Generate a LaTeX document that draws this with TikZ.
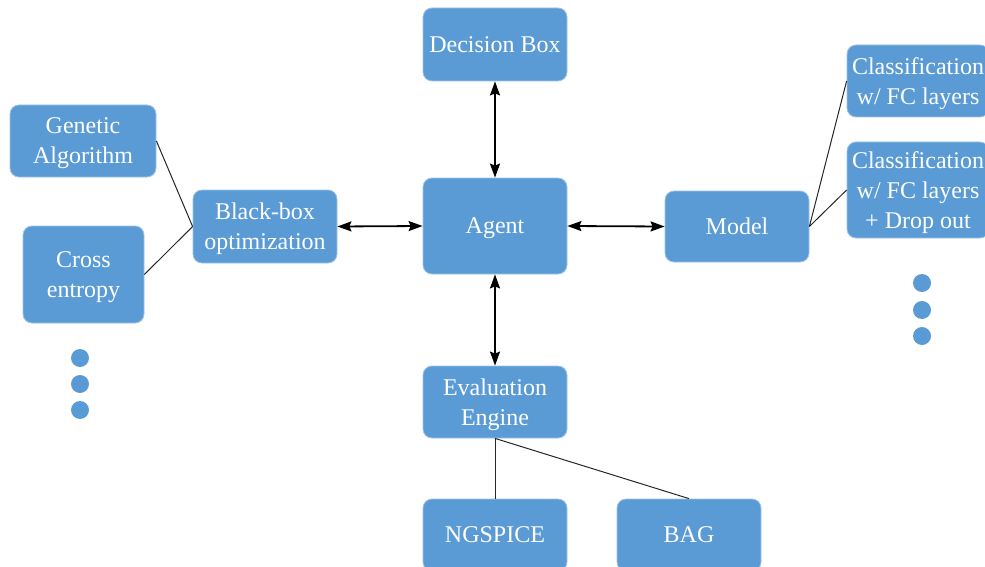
\documentclass[tikz,border=0pt]{standalone}
\usepackage{fontspec}
\setmainfont{Liberation Serif}
\usetikzlibrary{arrows.meta}
\definecolor{boxblue}{RGB}{91,155,213}
\begin{document}
\begin{tikzpicture}[x=0.5pt,y=-0.5pt,
  box/.style={draw=boxblue!60!white,line width=0.4pt,fill=boxblue,rounded corners=4.5pt,text=white,align=center,
     font=\fontsize{12}{15}\selectfont,inner sep=0pt,text depth=0pt},
  dot/.style={circle,fill=boxblue,minimum size=9pt,inner sep=0pt},
  link/.style={draw=black!85,line width=0.5pt},
  biarrow/.style={draw=black,line width=0.9pt,{Stealth[length=7pt,width=5pt,inset=1pt]}-{Stealth[length=7pt,width=5pt,inset=1pt]}}]
\useasboundingbox (0,0) rectangle (985,567);
\node[box,minimum width=72pt,minimum height=36.5pt] (db) at (495,44.5) {Decision Box};
\node[box,minimum width=72pt,minimum height=48pt] (agent) at (495,226) {Agent};
\node[box,minimum width=72pt,minimum height=35.5pt] (model) at (737,226.5) {Model};
\node[box,minimum width=72pt,minimum height=36.5pt] (bb) at (265,226.5) {Black-box\\optimization};
\node[box,minimum width=73pt,minimum height=36pt] (ga) at (83,141) {Genetic\\Algorithm};
\node[box,minimum width=60.5pt,minimum height=48.5pt] (ce) at (83.5,274.5) {Cross\\entropy};
\node[box,minimum width=71pt,minimum height=36pt] (c1) at (918,81) {Classification\\w/ FC layers};
\node[box,minimum width=71pt,minimum height=48pt] (c2) at (918,190) {Classification\\w/ FC layers\\+ Drop out};
\node[box,minimum width=72pt,minimum height=36pt] (eval) at (495,402) {Evaluation\\Engine};
\node[box,minimum width=72pt,minimum height=36pt] (ng) at (495,535) {NGSPICE};
\node[box,minimum width=72pt,minimum height=36pt] (bag) at (689,535) {BAG};
\node[dot] (l1) at (80,358) {};
\node[dot] (l2) at (80,384) {};
\node[dot] (l3) at (80,410) {};
\node[dot] (r1) at (922,283) {};
\node[dot] (r2) at (922,310) {};
\node[dot] (r3) at (922,336) {};
\draw[biarrow] (agent.north) -- (db.south);
\draw[biarrow] (agent.south) -- (eval.north);
\draw[biarrow] (bb.east) -- (agent.west);
\draw[biarrow] (agent.east) -- (model.west);
\draw[link] (ga.east) -- (bb.west);
\draw[link] (ce.east) -- (bb.west);
\draw[link] (model.east) -- (c1.west);
\draw[link] (model.east) -- (c2.west);
\draw[link] (eval.south) -- (ng.north);
\draw[link] (eval.south) -- (bag.north);
\end{tikzpicture}
\end{document}
